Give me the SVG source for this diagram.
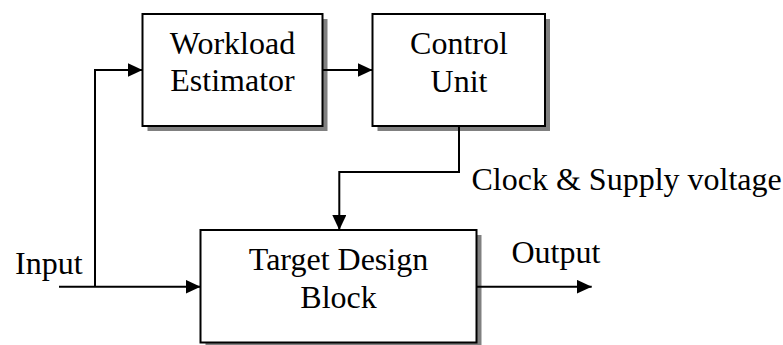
<svg xmlns="http://www.w3.org/2000/svg" width="783" height="345" viewBox="0 0 783 345">
<style>
.box{fill:#fff;stroke:#000;stroke-width:2}
.shadow{fill:#808080}
.t{font-size:32px;fill:#000}
.m{text-anchor:middle}
.c{fill:none;stroke:#000;stroke-width:2}
</style>
<defs>
<marker id="ah" markerWidth="15" markerHeight="14" refX="15" refY="7" orient="auto" markerUnits="userSpaceOnUse">
<path d="M0,0 L15,7 L0,14 Z" fill="#000"/>
</marker>
</defs>
<rect width="783" height="345" fill="#fff"/>
<g font-family="'Liberation Serif', 'Times New Roman', 'DejaVu Serif', serif">
<g id="workload">
<rect class="shadow" x="147.5" y="19" width="180" height="112"/>
<rect class="box" x="142.5" y="14" width="180" height="112"/>
<text class="t m" x="232.5" y="54">Workload</text>
<text class="t m" x="232.5" y="91">Estimator</text>
</g>
<g id="control">
<rect class="shadow" x="377.5" y="19" width="172.5" height="112"/>
<rect class="box" x="372.5" y="14" width="172.5" height="112"/>
<text class="t m" x="459" y="54">Control</text>
<text class="t m" x="459" y="91.5">Unit</text>
</g>
<g id="target">
<rect class="shadow" x="205.5" y="235" width="276" height="112.5"/>
<rect class="box" x="200.5" y="230" width="276" height="112.5"/>
<text class="t m" x="338.5" y="270">Target Design</text>
<text class="t m" x="338.5" y="308">Block</text>
</g>
<g id="connectors">
<path class="c" d="M59,286.7 H200.5" marker-end="url(#ah)"/>
<path class="c" d="M95,286.7 V70 H142.5" marker-end="url(#ah)"/>
<path class="c" d="M322.5,70 H372.5" marker-end="url(#ah)"/>
<path class="c" d="M459,126 V172 H339.3 V230" marker-end="url(#ah)"/>
<path class="c" d="M476.5,286.7 H591.7" marker-end="url(#ah)"/>
</g>
<g id="labels">
<text class="t" x="15" y="274">Input</text>
<text class="t" x="471.5" y="190">Clock &amp; Supply voltage</text>
<text class="t" x="511.5" y="263">Output</text>
</g>
</g>
</svg>
